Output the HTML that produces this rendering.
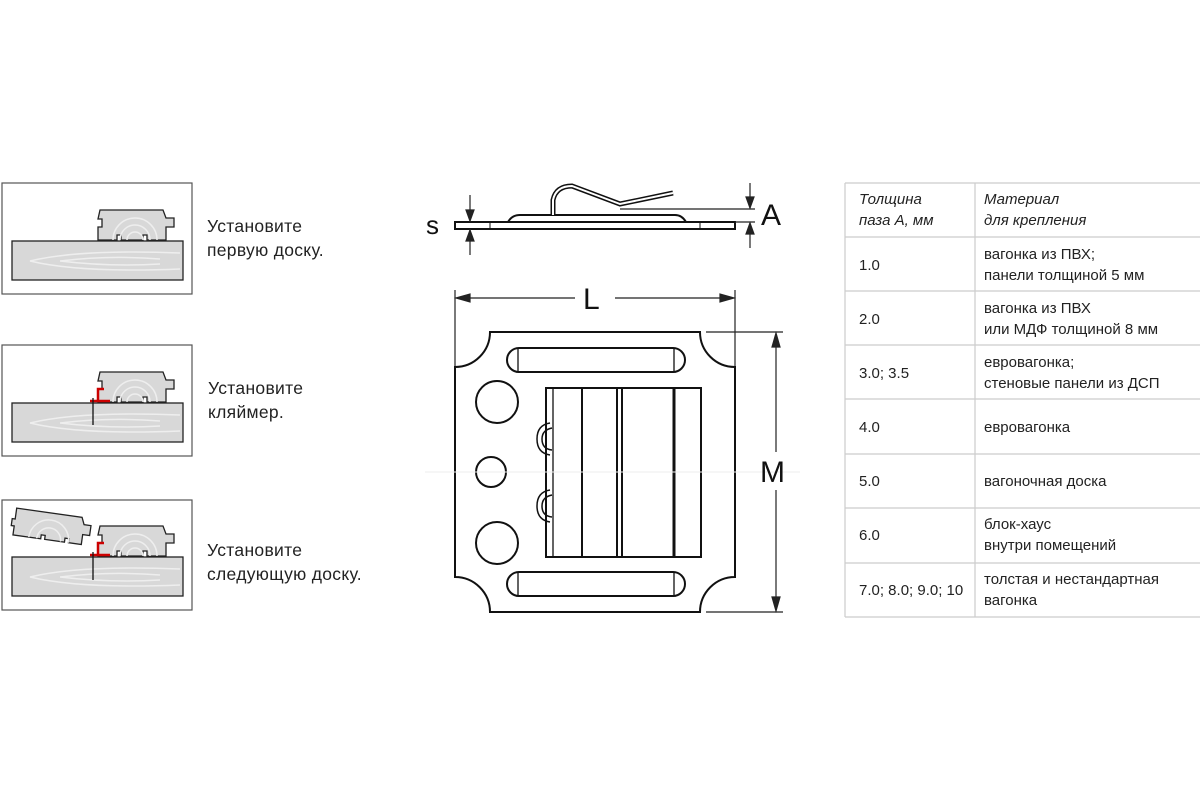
<!DOCTYPE html>
<html><head><meta charset="utf-8"><style>
body{margin:0;background:#fff;width:1200px;height:800px;overflow:hidden;font-family:"Liberation Sans",sans-serif}
.t{position:absolute;font-size:17.5px;color:#222;line-height:24px;letter-spacing:0.3px}
</style></head><body>
<svg width="1200" height="800" style="position:absolute;left:0;top:0">
<defs>
<g id="base"><rect x="12" y="0" width="171" height="39" fill="#d8d8d8" stroke="#222" stroke-width="1.3"/>
<path d="M30 20 Q80 8 180 12 M30 20 Q80 32 180 28 M60 20 Q110 14 160 18 M60 20 Q110 26 160 23" stroke="#eee" fill="none" stroke-width="1.5"/></g>
<g id="top">
<path d="M-1 0 H62 L65 8 H73 V17 H65 V30 H46 V25 H42 V30 H20 V25 H16 V30 H-3 V17 H1 V9 H-3 Z" fill="#d8d8d8" stroke="#222" stroke-width="1.3"/>
<path d="M12 30 A22 22 0 0 1 56 30 M19 30 A15 15 0 0 1 49 30 M26 30 A8 8 0 0 1 42 30" stroke="#eee" fill="none" stroke-width="1.5"/></g>
</defs>
<g fill="none" stroke="#555" stroke-width="1.2">
<rect x="2" y="183" width="190" height="111"/><rect x="2" y="345" width="190" height="111"/><rect x="2" y="500" width="190" height="110"/></g>
<use href="#base" y="241"/><use href="#top" x="101" y="210"/>
<use href="#base" y="403"/><use href="#top" x="101" y="372"/>
<path d="M90 401 H110 M98 401 V389 H104" stroke="#c00" stroke-width="2.5" fill="none"/><line x1="93" y1="398" x2="93" y2="425" stroke="#111" stroke-width="1.3"/>
<use href="#base" y="557"/><use href="#top" x="101" y="526"/>
<path d="M90 555 H110 M98 555 V543 H104" stroke="#c00" stroke-width="2.5" fill="none"/><line x1="93" y1="552" x2="93" y2="580" stroke="#111" stroke-width="1.3"/>
<g transform="rotate(8 50 530)"><path d="M14 513 H80 L83 520 H90 V530 H83 V540 H70 V536 H66 V540 H46 V536 H42 V540 H14 V531 H11 V524 H14 Z" fill="#d8d8d8" stroke="#222" stroke-width="1.3"/>
<path d="M30 540 A20 20 0 0 1 70 540 M38 540 A12 12 0 0 1 62 540" stroke="#eee" fill="none" stroke-width="1.5"/></g>

<g fill="none" stroke="#111" stroke-width="2">
<rect x="455" y="222" width="280" height="7"/>
<line x1="490" y1="222" x2="490" y2="229" stroke-width="1"/><line x1="700" y1="222" x2="700" y2="229" stroke-width="1"/>
<path d="M508 222 Q512 215 520 215 H675 Q682 215 686 222"/>
<path d="M553 215 V200 Q556 186 572 186 L620 204 L673 193" stroke-width="5"/>
<path d="M553 215 V200 Q556 186 572 186 L620 204 L673 193" stroke="#fff" stroke-width="2"/>
<path d="M490 332 H700 A35 35 0 0 0 735 367 V577 A35 35 0 0 0 700 612 H490 A35 35 0 0 0 455 577 V367 A35 35 0 0 0 490 332 Z"/>
<rect x="507" y="348" width="178" height="24" rx="12"/><line x1="518" y1="349" x2="518" y2="371" stroke-width="1.3"/><line x1="674" y1="349" x2="674" y2="371" stroke-width="1.3"/>
<rect x="507" y="572" width="178" height="24" rx="12"/><line x1="518" y1="573" x2="518" y2="595" stroke-width="1.3"/><line x1="674" y1="573" x2="674" y2="595" stroke-width="1.3"/>
<circle cx="497" cy="402" r="21"/><circle cx="491" cy="472" r="15"/><circle cx="497" cy="543" r="21"/>
<rect x="546" y="388" width="155" height="169"/>
<line x1="553" y1="388" x2="553" y2="557" stroke-width="1.3"/><line x1="582" y1="388" x2="582" y2="557"/>
<line x1="617" y1="388" x2="617" y2="557"/><line x1="622" y1="388" x2="622" y2="557"/><line x1="674" y1="388" x2="674" y2="557" stroke-width="3"/>
<path d="M550 423 Q537 425 537 439 Q537 453 550 455 M552 428 Q542 430 542 439 Q542 449 552 450" stroke-width="1.5"/>
<path d="M550 490 Q537 492 537 506 Q537 520 550 522 M552 495 Q542 497 542 506 Q542 516 552 517" stroke-width="1.5"/>
</g>
<line x1="425" y1="472" x2="800" y2="472" stroke="#eee" stroke-width="1"/>
<g stroke="#222" stroke-width="1.2" fill="#222">
<line x1="455" y1="290" x2="455" y2="366"/><line x1="735" y1="290" x2="735" y2="366"/>
<line x1="458" y1="298" x2="575" y2="298"/><line x1="615" y1="298" x2="732" y2="298"/>
<path d="M456 298 L470 294 L470 302 Z"/><path d="M734 298 L720 294 L720 302 Z"/>
<line x1="706" y1="332" x2="783" y2="332"/><line x1="706" y1="612" x2="783" y2="612"/>
<line x1="776" y1="334" x2="776" y2="452"/><line x1="776" y1="490" x2="776" y2="610"/>
<path d="M776 333 L772 347 L780 347 Z"/><path d="M776 611 L772 597 L780 597 Z"/>
<line x1="470" y1="195" x2="470" y2="221"/><line x1="470" y1="230" x2="470" y2="255"/>
<path d="M470 221 L466 210 L474 210 Z"/><path d="M470 230 L466 241 L474 241 Z"/>
<line x1="620" y1="209" x2="755" y2="209"/><line x1="735" y1="222" x2="755" y2="222"/>
<line x1="750" y1="183" x2="750" y2="208"/><line x1="750" y1="223" x2="750" y2="248"/>
<path d="M750 208 L746 197 L754 197 Z"/><path d="M750 223 L746 234 L754 234 Z"/>
</g>
<g font-family="Liberation Sans" fill="#111" font-size="30">
<text x="583" y="309">L</text><text x="760" y="482">M</text><text x="761" y="225">A</text><text x="426" y="234" font-size="26">s</text></g>
<g stroke="#ccc" stroke-width="1.2">
<line x1="845" y1="183" x2="1200" y2="183"/><line x1="845" y1="237" x2="1200" y2="237"/><line x1="845" y1="291" x2="1200" y2="291"/>
<line x1="845" y1="345" x2="1200" y2="345"/><line x1="845" y1="399" x2="1200" y2="399"/><line x1="845" y1="454" x2="1200" y2="454"/>
<line x1="845" y1="508" x2="1200" y2="508"/><line x1="845" y1="563" x2="1200" y2="563"/><line x1="845" y1="617" x2="1200" y2="617"/>
<line x1="845" y1="183" x2="845" y2="617"/><line x1="975" y1="183" x2="975" y2="617"/></g>
<g font-family="Liberation Sans" font-size="15" fill="#222">
<g font-style="italic"><text x="859" y="204">Толщина</text><text x="859" y="225">паза А, мм</text><text x="984" y="204">Материал</text><text x="984" y="225">для крепления</text></g>
<text x="859" y="270">1.0</text><text x="984" y="259">вагонка из ПВХ;</text><text x="984" y="280">панели толщиной 5 мм</text>
<text x="859" y="324">2.0</text><text x="984" y="313">вагонка из ПВХ</text><text x="984" y="334">или МДФ толщиной 8 мм</text>
<text x="859" y="378">3.0; 3.5</text><text x="984" y="367">евровагонка;</text><text x="984" y="388">стеновые панели из ДСП</text>
<text x="859" y="432">4.0</text><text x="984" y="432">евровагонка</text>
<text x="859" y="486">5.0</text><text x="984" y="486">вагоночная доска</text>
<text x="859" y="540">6.0</text><text x="984" y="529">блок-хаус</text><text x="984" y="550">внутри помещений</text>
<text x="859" y="595">7.0; 8.0; 9.0; 10</text><text x="984" y="584">толстая и нестандартная</text><text x="984" y="605">вагонка</text>
</g>
</svg>
<div class="t" style="left:207px;top:214px">Установите<br>первую доску.</div>
<div class="t" style="left:208px;top:376px">Установите<br>кляймер.</div>
<div class="t" style="left:207px;top:538px">Установите<br>следующую доску.</div>
</body></html>
